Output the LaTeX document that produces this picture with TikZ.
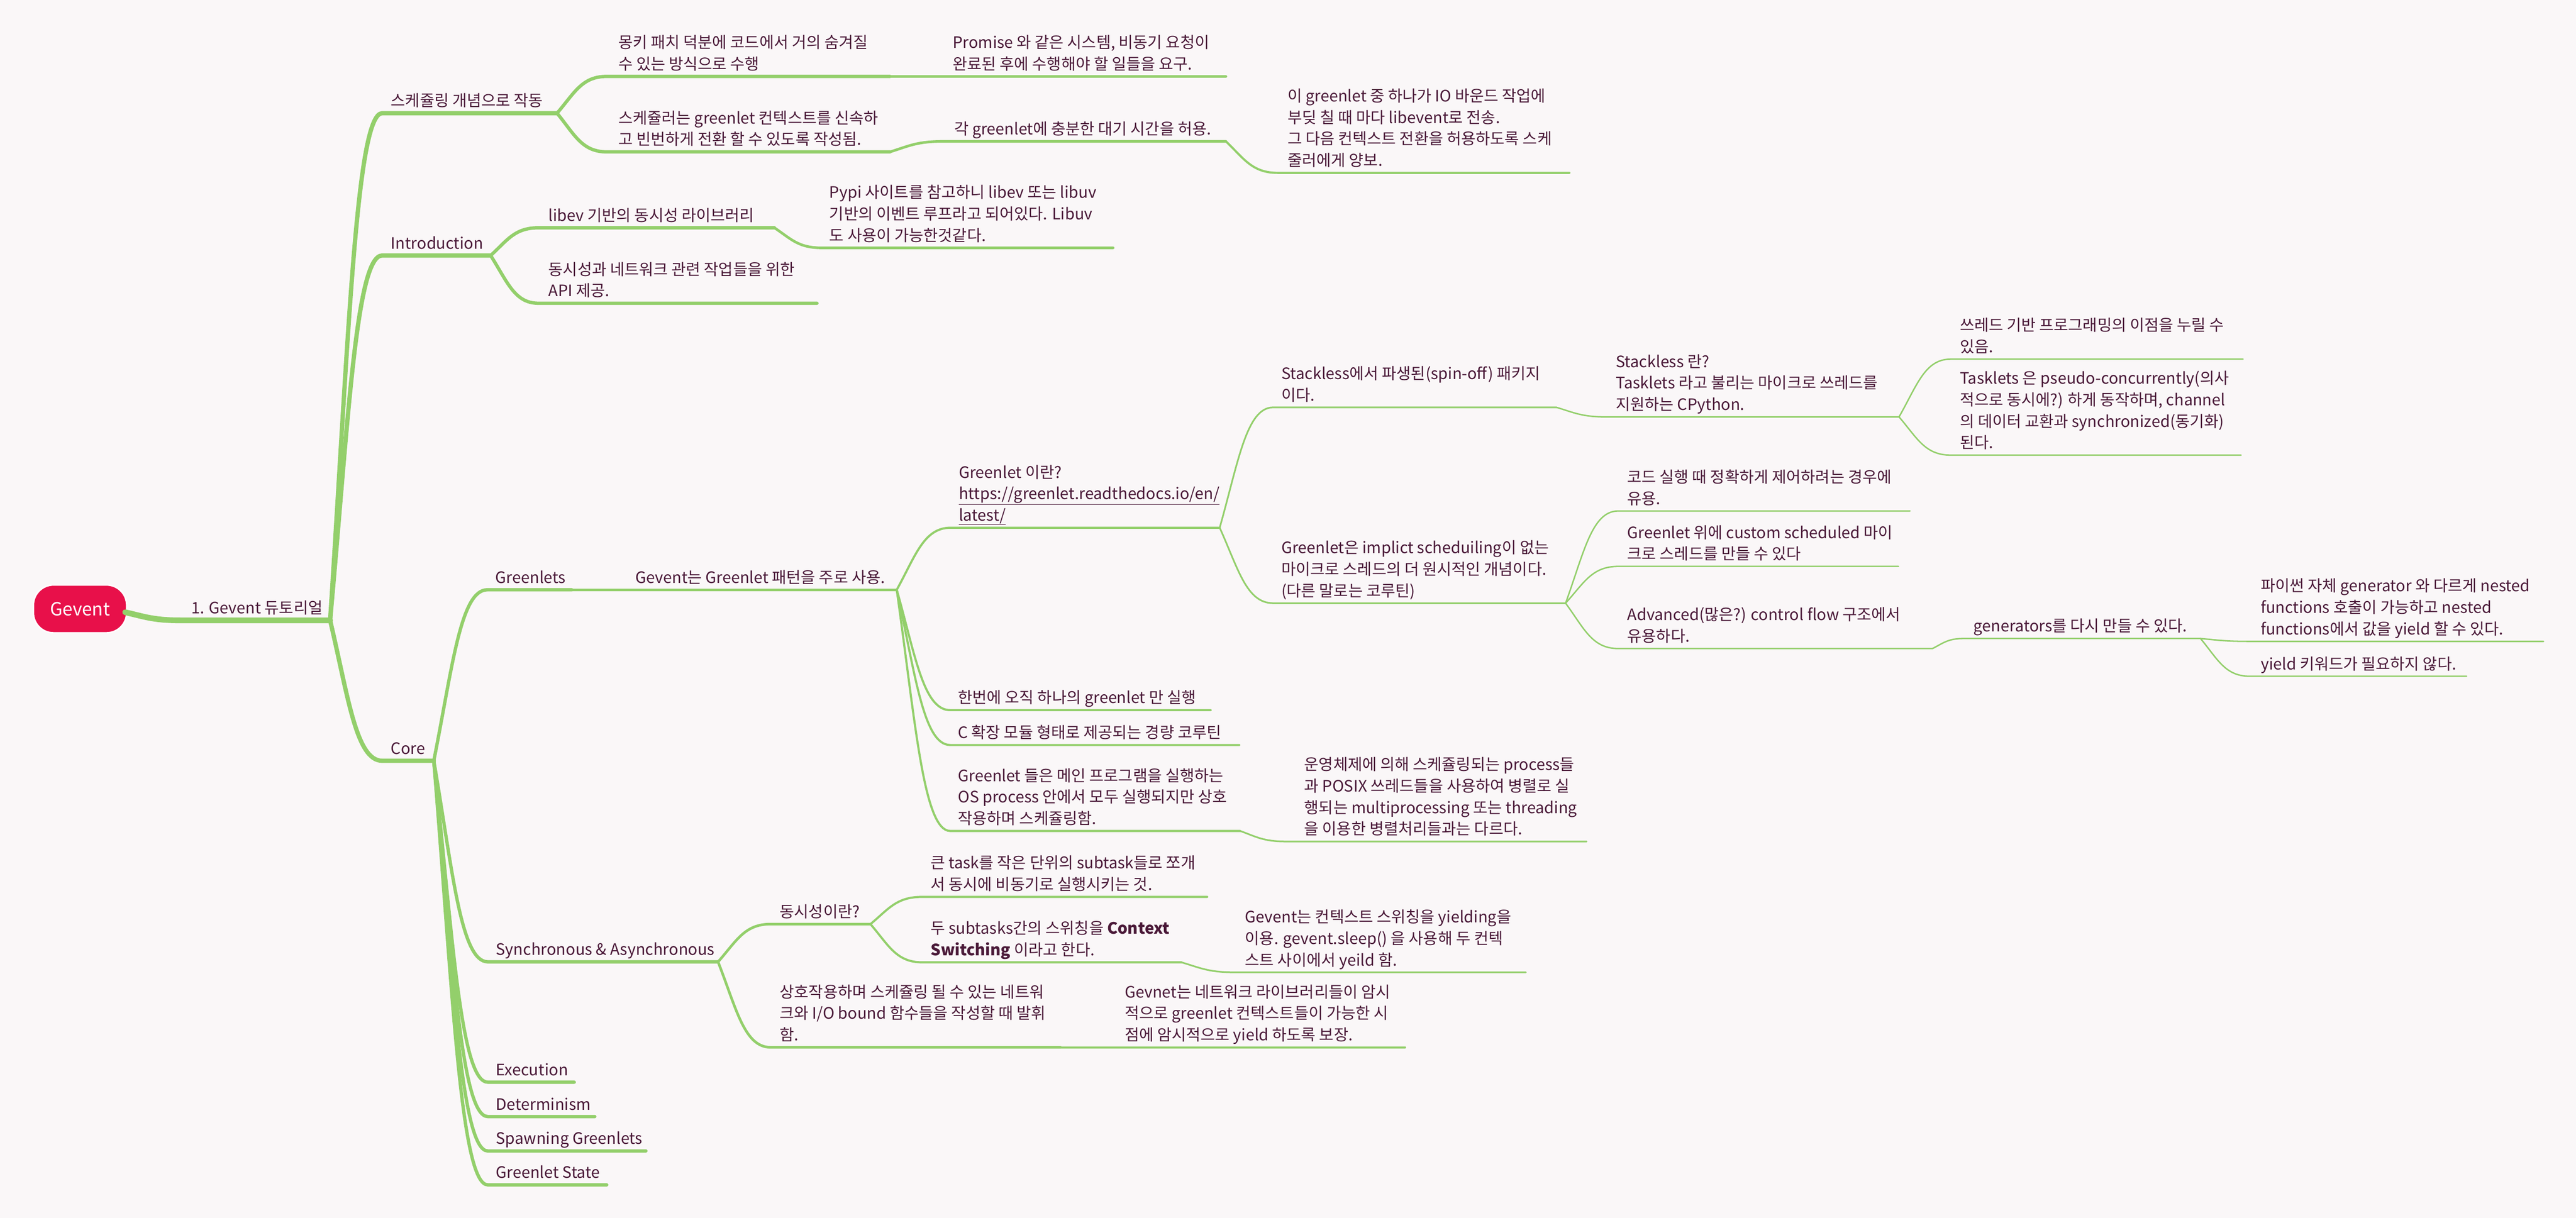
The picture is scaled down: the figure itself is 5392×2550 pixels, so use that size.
\documentclass[tikz,border=0pt]{standalone}
\usepackage{fontspec}
\setmainfont{Noto Sans CJK KR}
\usetikzlibrary{calc}
\definecolor{bgc}{RGB}{250,247,248}
\definecolor{tcol}{RGB}{74,25,56}
\definecolor{lgreen}{RGB}{147,207,107}
\definecolor{rootred}{RGB}{232,16,74}
\newcommand\mltext[1]{\begin{tabular}[b]{@{}l@{}}#1\end{tabular}}
\tikzset{
  ln/.style={draw=lgreen, line cap=round, line join=round},
  lz/.style={ln, line width=12pt},
  la/.style={ln, line width=9pt},
  lb/.style={ln, line width=7pt},
  lc/.style={ln, line width=5.5pt},
  ld/.style={ln, line width=4.5pt},
  le/.style={ln, line width=3.5pt},
  lf/.style={ln, line width=3pt},
  txt/.style={font=\fontsize{33}{45}\selectfont, text=tcol, inner sep=0pt, anchor=base west},
  rootbox/.style={fill=rootred, draw=white, line width=3pt, rounded corners=42pt,
    minimum width=195pt, minimum height=100pt, text=white, font=\fontsize{38}{46}\selectfont}
}
% name, style, parent, textx, ux1, ux2, uy, text
\newcommand\mmtopic[8]{%
  \coordinate (#1-s) at (#5,#7);
  \coordinate (#1-e) at (#6,#7);
  \node[txt] (#1) at (#4,#7-14) {\mltext{#8}};
  \draw[#2] let \p1=(#3-e), \p2=(#1-s) in
    (\p1) .. controls ({\x1+0.35*(\x2-\x1)},{\y1+0.55*(\y2-\y1)}) and ({\x1+0.5*(\x2-\x1)},\y2) .. (\p2) -- (#1-e);
}
\begin{document}
\begin{tikzpicture}[x=1pt,y=-1pt]
\fill[bgc] (0,0) rectangle (5392,2550);
\useasboundingbox (0,0) rectangle (5392,2550);

\node[rootbox] (root) at (167.5,1275) {Gevent};
\coordinate (root-e) at (262,1282);

\mmtopic{t1}{lz}{root}{400}{380}{691}{1299}{1. Gevent 듀토리얼}

% ---- level 1
\mmtopic{sch}{la}{t1}{818}{800}{1166}{237}{스케쥴링 개념으로 작동}
\mmtopic{intro}{la}{t1}{818}{800}{1027}{535}{Introduction}
\mmtopic{core}{la}{t1}{818}{800}{908}{1593}{Core}

% ---- scheduling
\mmtopic{monkey}{lb}{sch}{1294}{1270}{1863}{160}{몽키 패치 덕분에 코드에서 거의 숨겨질\\수 있는 방식으로 수행}
\mmtopic{promise}{lc}{monkey}{1994}{1866}{2566}{160}{Promise 와 같은 시스템, 비동기 요청이\\완료된 후에 수행해야 할 일들을 요구.}
\mmtopic{schr}{lb}{sch}{1294}{1270}{1863}{318}{스케쥴러는 greenlet 컨텍스트를 신속하\\고 빈번하게 전환 할 수 있도록 작성됨.}
\mmtopic{wait}{lc}{schr}{1997}{1975}{2566}{296}{각 greenlet에 충분한 대기 시간을 허용.}
\mmtopic{io}{ld}{wait}{2695}{2675}{3285}{362}{이 greenlet 중 하나가 IO 바운드 작업에\\부딪 칠 때 마다 libevent로 전송.\\그 다음 컨텍스트 전환을 허용하도록 스케\\줄러에게 양보.}

% ---- introduction
\mmtopic{libev}{lb}{intro}{1148}{1127}{1621}{477}{libev 기반의 동시성 라이브러리}
\mmtopic{pypi}{lc}{libev}{1736}{1720}{2330}{519}{Pypi 사이트를 참고하니 libev 또는 libuv\\기반의 이벤트 루프라고 되어있다. Libuv\\도 사용이 가능한것같다.}
\mmtopic{api}{lb}{intro}{1148}{1127}{1710}{635}{동시성과 네트워크 관련 작업들을 위한\\API 제공.}

% ---- core
\mmtopic{greenlets}{lb}{core}{1037}{1020}{1197}{1235}{Greenlets}
\mmtopic{pattern}{lc}{greenlets}{1330}{1200}{1877}{1235}{Gevent는 Greenlet 패턴을 주로 사용.}
\mmtopic{what}{ld}{pattern}{2007}{1990}{2553}{1105}{Greenlet 이란?\\\underline{https://greenlet.readthedocs.io/en/}\\\underline{latest/}}
\mmtopic{spin}{le}{what}{2682}{2665}{3258}{853}{Stackless에서 파생된(spin-off) 패키지\\이다.}
\mmtopic{stackless}{lf}{spin}{3382}{3363}{3975}{873}{Stackless 란?\\Tasklets 라고 불리는 마이크로 쓰레드를\\지원하는 CPython.}
\mmtopic{thread}{lf}{stackless}{4102}{4083}{4695}{752}{쓰레드 기반 프로그래밍의 이점을 누릴 수\\있음.}
\mmtopic{tasklets}{lf}{stackless}{4102}{4083}{4691}{953}{Tasklets 은 pseudo-concurrently(의사\\적으로 동시에?) 하게 동작하며, channel\\의 데이터 교환과 synchronized(동기화)\\된다.}
\mmtopic{prim}{le}{what}{2682}{2665}{3277}{1263}{Greenlet은 implict scheduiling이 없는\\마이크로 스레드의 더 원시적인 개념이다.\\(다른 말로는 코루틴)}
\mmtopic{ctrl}{lf}{prim}{3406}{3387}{3998}{1070}{코드 실행 때 정확하게 제어하려는 경우에\\유용.}
\mmtopic{custom}{lf}{prim}{3406}{3387}{3974}{1186}{Greenlet 위에 custom scheduled 마이\\크로 스레드를 만들 수 있다}
\mmtopic{adv}{lf}{prim}{3406}{3387}{4045}{1358}{Advanced(많은?) control flow 구조에서\\유용하다.}
\mmtopic{gen}{lf}{adv}{4131}{4110}{4606}{1337}{generators를 다시 만들 수 있다.}
\mmtopic{nested}{lf}{gen}{4732}{4709}{5324}{1343}{파이썬 자체 generator 와 다르게 nested\\functions 호출이 가능하고 nested\\functions에서 값을 yield 할 수 있다.}
\mmtopic{yieldkw}{lf}{gen}{4732}{4709}{5163}{1416}{yield 키워드가 필요하지 않다.}
\mmtopic{once}{ld}{pattern}{2005}{1989}{2534}{1487}{한번에 오직 하나의 greenlet 만 실행}
\mmtopic{cext}{ld}{pattern}{2005}{1989}{2594}{1560}{C 확장 모듈 형태로 제공되는 경량 코루틴}
\mmtopic{osproc}{ld}{pattern}{2005}{1989}{2596}{1740}{Greenlet 들은 메인 프로그램을 실행하는\\OS process 안에서 모두 실행되지만 상호\\작용하며 스케쥴링함.}
\mmtopic{posix}{le}{osproc}{2730}{2692}{3321}{1762}{운영체제에 의해 스케쥴링되는 process들\\과 POSIX 쓰레드들을 사용하여 병렬로 실\\행되는 multiprocessing 또는 threading\\을 이용한 병렬처리들과는 다르다.}

\mmtopic{sync}{lb}{core}{1038}{1021}{1503}{2014}{Synchronous \& Asynchronous}
\mmtopic{conc}{lc}{sync}{1632}{1613}{1822}{1935}{동시성이란?}
\mmtopic{bigtask}{ld}{conc}{1948}{1930}{2527}{1878}{큰 task를 작은 단위의 subtask들로 쪼개\\서 동시에 비동기로 실행시키는 것.}
\mmtopic{switch}{ld}{conc}{1948}{1930}{2473}{2015}{두 subtasks간의 스위칭을 \textbf{Context}\\\textbf{Switching} 이라고 한다.}
\mmtopic{yielding}{le}{switch}{2606}{2585}{3194}{2036}{Gevent는 컨텍스트 스위칭을 yielding을\\이용. gevent.sleep() 을 사용해 두 컨텍\\스트 사이에서 yeild 함.}
\mmtopic{inter}{lc}{sync}{1632}{1613}{2220}{2193}{상호작용하며 스케쥴링 될 수 있는 네트워\\크와 I/O bound 함수들을 작성할 때 발휘\\함.}
\mmtopic{gevnet}{ld}{inter}{2354}{2224}{2941}{2193}{Gevnet는 네트워크 라이브러리들이 암시\\적으로 greenlet 컨텍스트들이 가능한 시\\점에 암시적으로 yield 하도록 보장.}

\mmtopic{exec}{lb}{core}{1038}{1021}{1202}{2266}{Execution}
\mmtopic{determ}{lb}{core}{1038}{1021}{1245}{2338}{Determinism}
\mmtopic{spawn}{lb}{core}{1038}{1021}{1352}{2410}{Spawning Greenlets}
\mmtopic{state}{lb}{core}{1038}{1021}{1270}{2481}{Greenlet State}
\end{tikzpicture}
\end{document}
